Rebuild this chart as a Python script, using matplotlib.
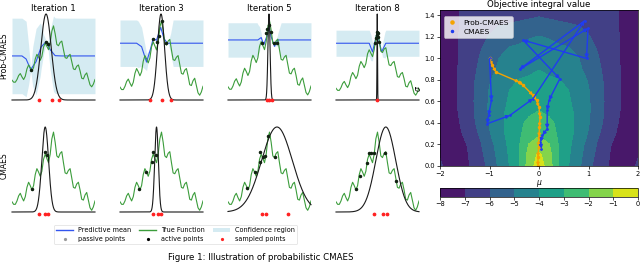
import numpy as np
import matplotlib
matplotlib.use("Agg")
import matplotlib.pyplot as plt
from matplotlib.lines import Line2D
from matplotlib.patches import Patch

NARROW = ["Liberation Sans Narrow", "DejaVu Sans"]

# ---------------- data: left panels ----------------
titles = ["Iteration 1", "Iteration 3", "Iteration 5", "Iteration 8"]
row_labels = ["Prob-CMAES", "CMAES"]

true_x = np.linspace(0, 1, 51)
true_f = [0.12, 0.09, 0.09, 0.13, 0.19, 0.22, 0.17, 0.13, 0.18, 0.29,
          0.35, 0.31, 0.26, 0.31, 0.44, 0.51, 0.47, 0.42, 0.48, 0.62,
          0.68, 0.63, 0.58, 0.68, 0.86, 0.94, 0.82, 0.66, 0.64, 0.69,
          0.71, 0.58, 0.46, 0.45, 0.49, 0.51, 0.40, 0.29, 0.28, 0.33,
          0.35, 0.26, 0.15, 0.14, 0.20, 0.23, 0.14, 0.05, 0.02, 0.06, 0.13]

# search distribution (mean, std) per panel
top_gauss_mu = [0.41, 0.494, 0.494, 0.497]
top_gauss_sd = [0.063, 0.043, 0.013, 0.003]
bot_gauss_mu = [0.40, 0.44, 0.59, 0.60]
bot_gauss_sd = [0.041, 0.022, 0.185, 0.12]

top_ylim = [(-0.179, 1.119), (-0.039, 1.024), (-0.043, 1.021), (-0.05, 1.2)]

# predictive mean (knots)
mean_x = [[0, 0.12, 0.17, 0.225, 0.29, 0.35, 0.41, 0.46, 0.52, 0.6, 1.0],
          [0, 0.2, 0.26, 0.32, 0.37, 0.40, 0.44, 0.49, 0.53, 0.57, 1.0],
          [0, 0.36, 0.40, 0.43, 0.47, 0.49, 0.52, 0.56, 0.6, 1.0],
          [0, 0.40, 0.44, 0.47, 0.497, 0.52, 0.55, 0.60, 1.0]]
mean_y = [[0.486, 0.486, 0.44, 0.28, 0.40, 0.62, 0.70, 0.58, 0.49, 0.486, 0.486],
          [0.663, 0.663, 0.62, 0.43, 0.60, 0.72, 0.70, 0.86, 0.72, 0.663, 0.663],
          [0.70, 0.70, 0.73, 0.64, 0.75, 0.88, 0.74, 0.62, 0.70, 0.70],
          [0.775, 0.775, 0.65, 0.80, 0.94, 0.80, 0.65, 0.775, 0.775]]
# confidence half-width (knots)
band_x = [[0, 0.17, 0.20, 0.225, 0.25, 0.29, 0.34, 0.38, 0.41, 0.43, 0.46, 0.50, 1.0],
          [0, 0.22, 0.26, 0.30, 0.35, 0.40, 0.58, 0.61, 0.64, 1.0],
          [0, 0.35, 0.38, 0.41, 0.57, 0.60, 0.64, 1.0],
          [0, 0.42, 0.45, 0.46, 0.55, 0.56, 0.59, 1.0]]
band_w = [[0.57, 0.57, 0.30, 0.02, 0.30, 0.50, 0.40, 0.15, 0.02, 0.02, 0.30, 0.57, 0.57],
          [0.287, 0.287, 0.24, 0.15, 0.04, 0.01, 0.01, 0.12, 0.287, 0.287],
          [0.213, 0.213, 0.15, 0.01, 0.01, 0.08, 0.213, 0.213],
          [0.19, 0.19, 0.10, 0.01, 0.01, 0.10, 0.19, 0.19]]

top_active_x = [[0.225, 0.41, 0.43],
                [0.40, 0.45, 0.47, 0.50, 0.56],
                [0.405, 0.458, 0.47, 0.49, 0.515, 0.555, 0.59],
                [0.475, 0.485, 0.49, 0.497, 0.505, 0.51, 0.52]]
top_active_y = [[0.274, 0.70, 0.66],
                [0.72, 0.68, 0.75, 0.94, 0.67],
                [0.666, 0.786, 0.836, 0.885, 0.802, 0.666, 0.66],
                [0.78, 0.85, 0.90, 0.94, 0.92, 0.86, 0.80]]
bot_active_x = [[0.237, 0.40, 0.42],
                [0.23, 0.31, 0.38, 0.40, 0.43],
                [0.233, 0.32, 0.38, 0.39, 0.425, 0.44, 0.486, 0.566],
                [0.237, 0.29, 0.378, 0.40, 0.42, 0.458, 0.59, 0.72]]
bot_active_y = [[0.27, 0.71, 0.67],
                [0.27, 0.476, 0.594, 0.71, 0.67],
                [0.28, 0.47, 0.59, 0.71, 0.65, 0.66, 0.89, 0.65],
                [0.27, 0.42, 0.58, 0.70, 0.70, 0.70, 0.70, 0.36]]

top_sampled = [[0.33, 0.48, 0.57], [0.36, 0.51, 0.61], [0.466, 0.498, 0.53], [0.497]]
bot_sampled = [[0.32, 0.40, 0.43], [0.40, 0.455, 0.49], [0.405, 0.458, 0.72], [0.458, 0.562, 0.618]]

# ---------------- data: right panel ----------------
mu_half = [0.0, 0.2, 0.4, 0.6, 0.8, 1.0, 1.2, 1.4, 1.6, 1.8, 2.0]
sigma_rows = [0.0, 0.1, 0.2, 0.3, 0.4, 0.5, 0.6, 0.7, 0.8, 0.9, 1.0, 1.1, 1.2, 1.3, 1.45]
Z_half = [
    [-0.40, -1.53, -3.00, -4.00, -4.80, -5.75, -6.43, -7.00, -7.50, -7.60, -6.80],
    [-0.80, -1.63, -3.00, -3.91, -4.69, -5.55, -6.31, -6.94, -7.45, -7.60, -7.10],
    [-1.50, -1.95, -3.07, -3.81, -4.56, -5.35, -6.17, -6.83, -7.40, -7.70, -7.80],
    [-2.15, -2.62, -3.12, -3.71, -4.36, -5.08, -5.92, -6.55, -7.15, -7.60, -7.85],
    [-2.55, -2.82, -3.18, -3.69, -4.27, -4.93, -5.72, -6.39, -7.00, -7.50, -7.85],
    [-2.95, -3.13, -3.47, -3.80, -4.25, -4.88, -5.64, -6.32, -6.91, -7.45, -7.80],
    [-3.25, -3.47, -3.69, -3.91, -4.33, -4.89, -5.62, -6.29, -6.86, -7.40, -7.80],
    [-3.50, -3.67, -3.83, -4.00, -4.48, -4.95, -5.64, -6.29, -6.86, -7.40, -7.80],
    [-3.75, -3.85, -3.96, -4.24, -4.64, -5.07, -5.73, -6.32, -6.86, -7.40, -7.80],
    [-4.02, -4.23, -4.45, -4.66, -4.87, -5.24, -5.85, -6.38, -6.90, -7.40, -7.80],
    [-4.35, -4.51, -4.67, -4.83, -4.98, -5.46, -5.97, -6.45, -6.93, -7.40, -7.80],
    [-4.65, -4.76, -4.86, -4.97, -5.29, -5.69, -6.11, -6.53, -6.96, -7.40, -7.80],
    [-4.97, -5.06, -5.28, -5.50, -5.72, -5.94, -6.26, -6.61, -6.96, -7.40, -7.80],
    [-5.60, -5.69, -5.79, -5.88, -5.98, -6.19, -6.45, -6.71, -6.97, -7.40, -7.80],
    [-6.30, -6.39, -6.47, -6.56, -6.65, -6.73, -6.82, -6.90, -6.99, -7.40, -7.80],
]
cbar_ticks = [-8, -7, -6, -5, -4, -3, -2, -1, 0]

prob_mu = [-1.0, -0.94, -0.87, -0.40, -0.32, -0.12, -0.05, 0.0, 0.02, 0.01, 0.0, -0.01, -0.02, -0.02]
prob_sigma = [1.0, 0.935, 0.873, 0.78, 0.75, 0.657, 0.61, 0.548, 0.455, 0.362, 0.27, 0.18, 0.084, 0.0]
cma_mu = [-1.0, -0.96, -1.02, -1.045, -0.59, -0.12, 0.92, -0.39, 0.99, 0.96, -0.32, 0.42, 0.20, 0.165, 0.165, 0.07, 0.03, 0.05]
cma_sigma = [1.0, 0.61, 0.47, 0.393, 0.47, 0.626, 1.35, 0.90, 1.28, 1.0, 1.17, 0.81, 0.61, 0.517, 0.347, 0.285, 0.223, 0.16]

# ---------------- styling ----------------
C_BLUE = "#3355ee"
C_GREEN = "#3c9d3c"
C_BLACK = "#1a1a1a"
C_ACTIVE = "#112211"
C_RED = "#ff2222"
C_ORANGE = "#f5a300"
C_CMA = "#1f3cf0"

W, H = 640, 263
fig = plt.figure(figsize=(6.4, 2.63), dpi=100)

def rect(x0, y0, x1, y1):
    return [x0 / W, 1 - y1 / H, (x1 - x0) / W, (y1 - y0) / H]

col_left = [12, 120, 228, 336]
col_w = 83
xs = np.linspace(0, 1, 4001)

def gauss_panel(r, mu, sd, sampled, dot_y):
    axg = fig.add_axes(r, facecolor="none")
    axg.set_xlim(0, 1)
    axg.set_ylim(0, 1)
    axg.axis("off")
    axg.plot(xs, np.exp(-0.5 * ((xs - mu) / sd) ** 2), color=C_BLACK, lw=0.8, clip_on=False)
    axg.plot(sampled, [dot_y] * len(sampled), ls="", marker="o", ms=1.7,
             color=C_RED, clip_on=False, zorder=5)
    return axg

for i in range(4):
    # top row
    r = rect(col_left[i], 14, col_left[i] + col_w, 100)
    ax = fig.add_axes(r)
    ax.set_xlim(0, 1)
    ax.set_ylim(*top_ylim[i])
    ax.axis("off")
    bx = np.array(band_x[i]); bw = np.array(band_w[i])
    mx = np.array(mean_x[i]); my = np.array(mean_y[i])
    grid = np.union1d(bx, mx)
    mg = np.interp(grid, mx, my); wg = np.interp(grid, bx, bw)
    ax.fill_between(grid, mg - wg, mg + wg, color="lightblue", alpha=0.5, lw=0)
    ax.plot(mx, my, color=C_BLUE, lw=0.8)
    ax.plot(true_x, true_f, color=C_GREEN, lw=0.8)
    ax.set_title(titles[i], fontsize=6.2, pad=2)
    gauss_panel(r, top_gauss_mu[i], top_gauss_sd[i], top_sampled[i], 0.0)
    axa = fig.add_axes(r, facecolor="none")
    axa.set_xlim(0, 1); axa.set_ylim(*top_ylim[i]); axa.axis("off")
    axa.plot(top_active_x[i], top_active_y[i], ls="", marker="o", ms=1.5, color=C_ACTIVE, zorder=6)

    # bottom row
    r2 = rect(col_left[i], 127, col_left[i] + col_w, 212)
    ax2 = fig.add_axes(r2)
    ax2.set_xlim(0, 1)
    ax2.set_ylim(0, 1)
    ax2.axis("off")
    ax2.plot(true_x, true_f, color=C_GREEN, lw=0.8)
    gauss_panel(r2, bot_gauss_mu[i], bot_gauss_sd[i], bot_sampled[i], -0.02)
    axb = fig.add_axes(r2, facecolor="none")
    axb.set_xlim(0, 1); axb.set_ylim(0, 1); axb.axis("off")
    axb.plot(bot_active_x[i], bot_active_y[i], ls="", marker="o", ms=1.5, color=C_ACTIVE, zorder=6)

fig.text(4 / W, 1 - 56 / H, row_labels[0], rotation=90, fontsize=5.5, ha="center", va="center")
fig.text(4 / W, 1 - 166 / H, row_labels[1], rotation=90, fontsize=5.5, ha="center", va="center")

handles = [Line2D([], [], color=C_BLUE, lw=1),
           Line2D([], [], ls="", marker="o", ms=1.3, color="#999999"),
           Line2D([], [], color=C_GREEN, lw=1),
           Line2D([], [], ls="", marker="o", ms=1.3, color="black"),
           Patch(facecolor="lightblue", alpha=0.5, lw=0),
           Line2D([], [], ls="", marker="o", ms=1.3, color=C_RED)]
labels = ["Predictive mean", "passive points", "True Function",
          "active points", "Confidence region", "sampled points"]
leg = fig.legend(handles, labels, ncol=3, loc="center",
                 bbox_to_anchor=(175.5 / W, 1 - 234.5 / H),
                 prop={"family": NARROW, "size": 4.7}, frameon=True,
                 handlelength=2.6, handleheight=0.5, columnspacing=1.3,
                 labelspacing=0.35, borderpad=0.4, handletextpad=0.7, fancybox=True)
leg.get_frame().set_linewidth(0.4)
leg.get_frame().set_edgecolor("#cccccc")

# ---------------- right panel ----------------
mu_full = np.concatenate([-np.array(mu_half[:0:-1]), np.array(mu_half)])
Z = np.array([np.concatenate([row[:0:-1], row]) for row in np.array(Z_half)])
axc = fig.add_axes(rect(440, 10, 638, 166))
cs = axc.contourf(mu_full, sigma_rows, Z, levels=cbar_ticks, cmap="viridis")
axc.set_xlim(-2, 2)
axc.set_ylim(0, 1.45)
axc.set_xticks([-2, -1, 0, 1, 2])
axc.set_yticks([0.0, 0.2, 0.4, 0.6, 0.8, 1.0, 1.2, 1.4])
axc.tick_params(labelsize=4.8, length=2, width=0.5, pad=1.5)
for s in axc.spines.values():
    s.set_linewidth(0.5)
axc.set_title("Objective integral value", fontsize=6.2, pad=2)
axc.set_xlabel(r"$\mu$", fontsize=5.5, labelpad=0.5)
axc.set_ylabel(r"$\sigma$", fontsize=5.5, labelpad=1)

for k in range(len(prob_mu) - 1):
    axc.annotate("", xy=(prob_mu[k + 1], prob_sigma[k + 1]), xytext=(prob_mu[k], prob_sigma[k]),
                 arrowprops=dict(arrowstyle="-|>", color=C_ORANGE, lw=1.0,
                                 mutation_scale=4, shrinkA=0, shrinkB=0))
axc.plot(prob_mu, prob_sigma, ls="", marker="o", ms=1.5, color=C_ORANGE, label="Prob-CMAES")
for k in range(len(cma_mu) - 1):
    axc.annotate("", xy=(cma_mu[k + 1], cma_sigma[k + 1]), xytext=(cma_mu[k], cma_sigma[k]),
                 arrowprops=dict(arrowstyle="-|>", color=C_CMA, lw=1.0,
                                 mutation_scale=5, shrinkA=0, shrinkB=0))
axc.plot(cma_mu, cma_sigma, ls="", marker="o", ms=1.0, color=C_CMA, label="CMAES")
lg = axc.legend(loc="upper left", fontsize=5.4, markerscale=1.5, handlelength=1.4,
                borderpad=0.45, labelspacing=0.35, framealpha=0.8,
                bbox_to_anchor=(0.0, 0.985))
lg.get_frame().set_linewidth(0.4)

cax = fig.add_axes(rect(440, 188, 638, 197))
cb = fig.colorbar(cs, cax=cax, orientation="horizontal", ticks=cbar_ticks)
cb.ax.tick_params(labelsize=4.8, length=2, width=0.5, pad=1)
cb.outline.set_linewidth(0.5)

fig.text(261 / W, 1 - 257 / H, "Figure 1: Illustration of probabilistic CMAES",
         ha="center", va="center", fontsize=6.2, family=NARROW)

fig.savefig("out.png", dpi=100)
